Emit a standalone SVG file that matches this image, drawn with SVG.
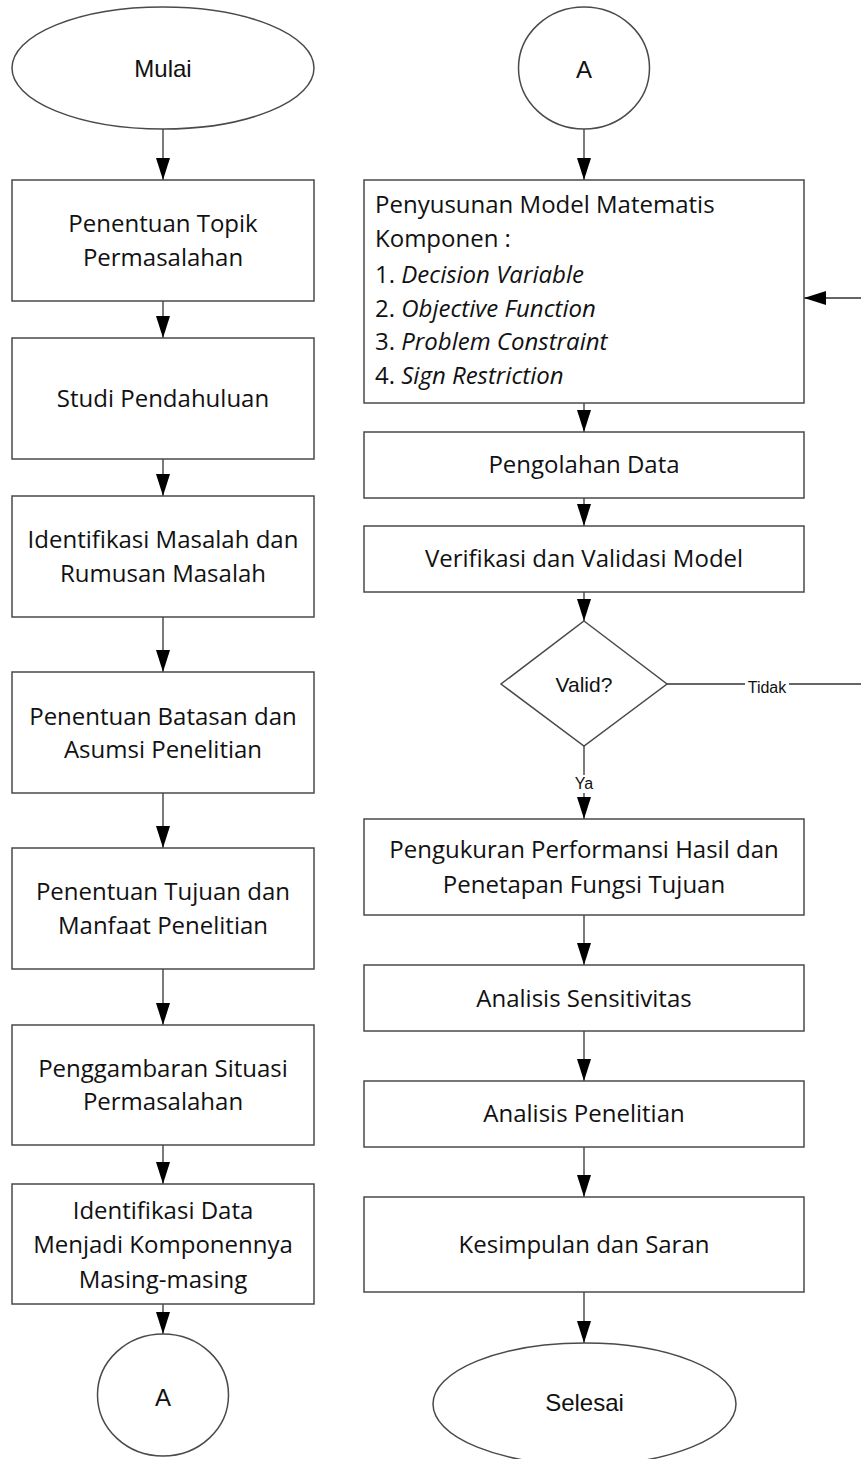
<svg xmlns="http://www.w3.org/2000/svg" width="861" height="1459" viewBox="0 0 861 1459">
<style>
.shape{fill:#ffffff;stroke:#4a4a4a;stroke-width:1.5}
.t{font-family:"Open Sans","Noto Sans","Liberation Sans",sans-serif;font-size:24px;fill:#111111;text-anchor:middle}
.tl{font-family:"Open Sans","Noto Sans","Liberation Sans",sans-serif;font-size:24px;fill:#111111}
.a{font-family:"Liberation Sans",Arial,sans-serif;font-size:24px;fill:#111111;text-anchor:middle}
.lbl{font-family:"Liberation Sans",Arial,sans-serif;font-size:16px;fill:#111111;text-anchor:middle}
.c{fill:none;stroke:#333333;stroke-width:1.3;marker-end:url(#arr)}
</style>
<defs>
<marker id="arr" markerUnits="userSpaceOnUse" markerWidth="22" markerHeight="14" refX="22" refY="7" orient="auto">
<path d="M0,0 L22,7 L0,14 z" fill="#000000"/>
</marker>
</defs>
<rect width="861" height="1459" fill="#ffffff"/>

<g id="connectors">
<path class="c" d="M163,129 L163,180"/>
<path class="c" d="M163,301 L163,338"/>
<path class="c" d="M163,459 L163,496"/>
<path class="c" d="M163,617 L163,672"/>
<path class="c" d="M163,793 L163,848"/>
<path class="c" d="M163,969 L163,1025"/>
<path class="c" d="M163,1145 L163,1184"/>
<path class="c" d="M163,1304 L163,1334"/>
<path class="c" d="M584,129 L584,180"/>
<path class="c" d="M584,403 L584,432"/>
<path class="c" d="M584,498 L584,526"/>
<path class="c" d="M584,592 L584,621"/>
<path class="c" d="M584,746 L584,819"/>
<path class="c" d="M584,915 L584,965"/>
<path class="c" d="M584,1031 L584,1081"/>
<path class="c" d="M584,1147 L584,1197"/>
<path class="c" d="M584,1292 L584,1343"/>
<path class="c" d="M667,684 L863,684 L863,298 L804,298"/>
<g id="label-tidak">
<rect x="745" y="676" width="44" height="17" fill="#ffffff"/>
<text class="lbl" x="767" y="693">Tidak</text>
</g>
<g id="label-ya">
<rect x="572" y="775" width="24" height="18" fill="#ffffff"/>
<text class="lbl" x="584" y="789">Ya</text>
</g>
</g>

<g id="mulai">
<ellipse class="shape" cx="163" cy="68" rx="151" ry="61"/>
<text class="a" x="163" y="77">Mulai</text>
</g>
<g id="topik">
<rect class="shape" x="12" y="180" width="302" height="121"/>
<text class="t" x="163" y="232">Penentuan Topik</text>
<text class="t" x="163" y="266">Permasalahan</text>
</g>
<g id="studi">
<rect class="shape" x="12" y="338" width="302" height="121"/>
<text class="t" x="163" y="407">Studi Pendahuluan</text>
</g>
<g id="identifikasi-masalah">
<rect class="shape" x="12" y="496" width="302" height="121"/>
<text class="t" x="163" y="548">Identifikasi Masalah dan</text>
<text class="t" x="163" y="582">Rumusan Masalah</text>
</g>
<g id="batasan">
<rect class="shape" x="12" y="672" width="302" height="121"/>
<text class="t" x="163" y="725">Penentuan Batasan dan</text>
<text class="t" x="163" y="758">Asumsi Penelitian</text>
</g>
<g id="tujuan">
<rect class="shape" x="12" y="848" width="302" height="121"/>
<text class="t" x="163" y="900">Penentuan Tujuan dan</text>
<text class="t" x="163" y="934">Manfaat Penelitian</text>
</g>
<g id="penggambaran">
<rect class="shape" x="12" y="1025" width="302" height="120"/>
<text class="t" x="163" y="1077">Penggambaran Situasi</text>
<text class="t" x="163" y="1110">Permasalahan</text>
</g>
<g id="identifikasi-data">
<rect class="shape" x="12" y="1184" width="302" height="120"/>
<text class="t" x="163" y="1219">Identifikasi Data</text>
<text class="t" x="163" y="1253">Menjadi Komponennya</text>
<text class="t" x="163" y="1288">Masing-masing</text>
</g>
<g id="a-out">
<ellipse class="shape" cx="163" cy="1395" rx="65.5" ry="61"/>
<text class="a" x="163" y="1406">A</text>
</g>

<g id="a-in">
<ellipse class="shape" cx="584" cy="68" rx="65.5" ry="61"/>
<text class="a" x="584" y="78">A</text>
</g>
<g id="model">
<rect class="shape" x="364" y="180" width="440" height="223"/>
<text class="tl" x="375" y="213">Penyusunan Model Matematis</text>
<text class="tl" x="375" y="247">Komponen :</text>
<text class="tl" x="375" y="283">1. <tspan font-style="italic">Decision Variable</tspan></text>
<text class="tl" x="375" y="317">2. <tspan font-style="italic">Objective Function</tspan></text>
<text class="tl" x="375" y="350">3. <tspan font-style="italic">Problem Constraint</tspan></text>
<text class="tl" x="375" y="384">4. <tspan font-style="italic">Sign Restriction</tspan></text>
</g>
<g id="pengolahan">
<rect class="shape" x="364" y="432" width="440" height="66"/>
<text class="t" x="584" y="473">Pengolahan Data</text>
</g>
<g id="verifikasi">
<rect class="shape" x="364" y="526" width="440" height="66"/>
<text class="t" x="584" y="567">Verifikasi dan Validasi Model</text>
</g>
<g id="valid">
<polygon class="shape" points="584,621 667,684 584,746 501,684"/>
<text class="a" x="584" y="692" style="font-size:21px">Valid?</text>
</g>
<g id="pengukuran">
<rect class="shape" x="364" y="819" width="440" height="96"/>
<text class="t" x="584" y="858">Pengukuran Performansi Hasil dan</text>
<text class="t" x="584" y="893">Penetapan Fungsi Tujuan</text>
</g>
<g id="sensitivitas">
<rect class="shape" x="364" y="965" width="440" height="66"/>
<text class="t" x="584" y="1007">Analisis Sensitivitas</text>
</g>
<g id="analisis">
<rect class="shape" x="364" y="1081" width="440" height="66"/>
<text class="t" x="584" y="1122">Analisis Penelitian</text>
</g>
<g id="kesimpulan">
<rect class="shape" x="364" y="1197" width="440" height="95"/>
<text class="t" x="584" y="1253">Kesimpulan dan Saran</text>
</g>
<g id="selesai">
<ellipse class="shape" cx="584.5" cy="1404" rx="151.5" ry="61"/>
<text class="a" x="584.5" y="1411">Selesai</text>
</g>
</svg>
